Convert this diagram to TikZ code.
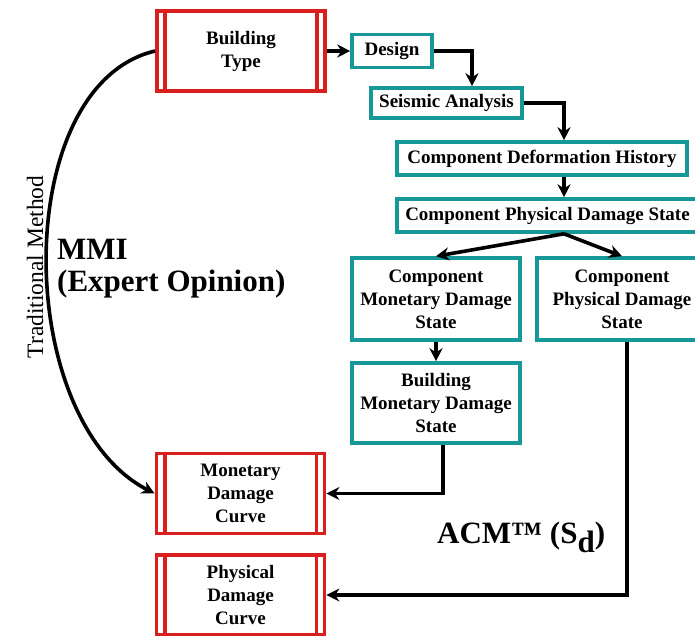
\documentclass[tikz,border=0pt]{standalone}
\usepackage{fontspec}
\setmainfont{Liberation Serif}
\usetikzlibrary{arrows.meta}
\definecolor{boxteal}{RGB}{22,152,152}
\definecolor{boxred}{RGB}{218,32,30}
\tikzset{>={Stealth[length=13pt,width=13pt]},every node/.style={font=\fontsize{19}{23}\selectfont\bfseries,align=center,inner sep=0pt},
 tealbox/.style={draw=boxteal,line width=3.6pt},redbox/.style={draw=boxred,line width=3.8pt,minimum width=168pt,minimum height=80pt},
 redbar/.style={boxred,line width=3.8pt},flow/.style={line width=3.6pt,->},bigtext/.style={font=\fontsize{31}{33}\selectfont\bfseries}}

\begin{document}
\begin{tikzpicture}[x=1pt,y=-1pt]
\useasboundingbox (0,0) rectangle (695,635);
% red curve boxes
\node[redbox] (btype) at (241,51){Building\\Type};
\node[redbox] (mcurve) at (240.5,493.5){Monetary\\Damage\\Curve};
\node[redbox] (pcurve) at (240.5,595){Physical\\Damage\\Curve};
\foreach \n in {btype,mcurve,pcurve}{\draw[redbar] ([xshift=10pt]\n.north west)--([xshift=10pt]\n.south west);\draw[redbar] ([xshift=-10pt]\n.north east)--([xshift=-10pt]\n.south east);}
% teal chain
\node[tealbox,minimum width=80pt,minimum height=33pt] (design) at (392,51){Design};
\node[tealbox,minimum width=151pt,minimum height=30pt] (seis) at (446.5,103){Seismic Analysis};
\node[tealbox,minimum width=290pt,minimum height=33pt] (cdh) at (542,158.5){Component Deformation History};
\node[tealbox,minimum width=301pt,minimum height=33pt] (cpds) at (547.5,215.5){Component Physical Damage State};
\node[tealbox,minimum width=168pt,minimum height=82pt] (cmds) at (436,299){Component\\Monetary Damage\\State};
\node[tealbox,minimum width=170pt,minimum height=82pt] (cpdsb) at (622,299){Component\\Physical Damage\\State};
\node[tealbox,minimum width=168pt,minimum height=80pt] (bmds) at (436,403){Building\\Monetary Damage\\State};
% connectors
\draw[flow] (btype.east)--(design.west);
\draw[flow] (design.east)-|([xshift=25.5pt]seis.north);
\draw[flow] (seis.east)-|([xshift=22pt]cdh.north);
\draw[flow] ([xshift=22pt]cdh.south)--([xshift=16.5pt]cpds.north);
\draw[flow] ([xshift=16.5pt]cpds.south)--(cmds.north);\draw[flow] ([xshift=16.5pt]cpds.south)--(cpdsb.north);
\draw[flow] (cmds.south)--(bmds.north);
\draw[flow] ([xshift=7pt]bmds.south)|-(mcurve.east);
\draw[flow] ([xshift=5pt]cpdsb.south)|-(pcurve.east);
\draw[flow] (btype.west) .. controls (10,85) and (12,420) .. (mcurve.west);
% labels
\node[rotate=90,font=\fontsize{23.5}{24}\selectfont] (trad) at (35,267){Traditional Method};
\node[bigtext,anchor=base west] (mmi) at (57,259){MMI};
\node[bigtext,anchor=base west] (expert) at (57,291){(Expert Opinion)};
\node[bigtext,anchor=base west] (acm) at (437,543){ACM™ (S\raisebox{-.3em}{d})};
\end{tikzpicture}
\end{document}
